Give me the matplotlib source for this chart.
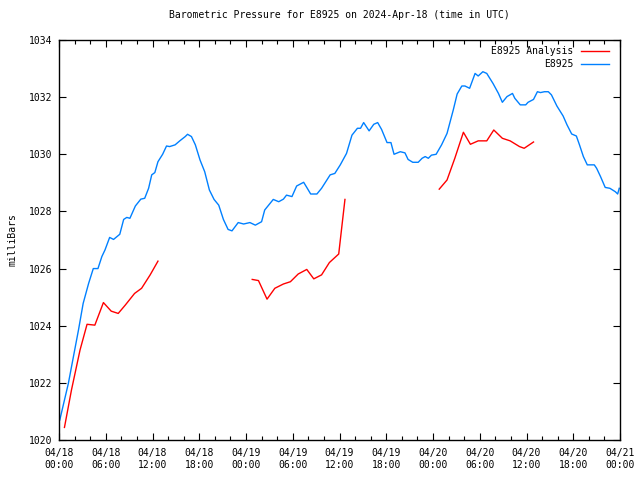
import numpy as np
import matplotlib
matplotlib.use('Agg')
import matplotlib.pyplot as plt

plt.rcParams.update({
    'font.family': 'DejaVu Sans Mono',
    'font.size': 7.0,
})

# hours since 2024-04-18 00:00 UTC
obs_hours = [0.1, 1.2, 2.5, 3.1, 3.8, 4.4, 5.0, 5.5, 5.9, 6.5, 7.0, 7.8, 8.3, 8.7, 9.1,
             9.8, 10.5, 11.0, 11.5, 11.9, 12.3, 12.7, 13.3, 13.8, 14.2, 14.9, 15.5, 16.2,
             16.5, 17.0, 17.5, 18.1, 18.7, 19.3, 19.9, 20.5, 21.1, 21.7, 22.2, 23.0, 23.7,
             24.5, 25.2, 26.0, 26.4, 27.5, 28.2, 28.8, 29.2, 29.9, 30.5, 31.4, 31.8, 32.3,
             33.1, 33.7, 34.8, 35.4, 36.1, 36.9, 37.6, 38.3, 38.7, 39.1, 39.8, 40.4, 40.9,
             41.4, 42.1, 42.6, 43.0, 43.8, 44.4, 44.8, 45.4, 46.1, 46.6, 47.0, 47.4, 47.8,
             48.4, 49.1, 49.8, 50.6, 51.1, 51.7, 52.1, 52.7, 53.4, 53.8, 54.4, 54.9, 55.7,
             56.4, 56.9, 57.5, 58.2, 58.5, 59.2, 59.9, 60.2, 60.9, 61.4, 61.8, 62.3, 62.8,
             63.2, 63.9, 64.7, 65.2, 65.8, 66.4, 66.8, 67.3, 67.8, 68.7, 69.0, 69.5, 70.1,
             70.7, 71.4, 71.7, 71.9]
obs_mb = [1020.70, 1021.98, 1023.85, 1024.78, 1025.48, 1026.00, 1026.00, 1026.42, 1026.65,
          1027.09, 1027.02, 1027.20, 1027.72, 1027.79, 1027.76, 1028.19, 1028.43, 1028.46,
          1028.81, 1029.28, 1029.36, 1029.74, 1030.00, 1030.29, 1030.27, 1030.33, 1030.47,
          1030.62, 1030.70, 1030.62, 1030.33, 1029.80, 1029.39, 1028.75, 1028.42, 1028.22,
          1027.72, 1027.37, 1027.32, 1027.61, 1027.56, 1027.61, 1027.52, 1027.64, 1028.05,
          1028.42, 1028.34, 1028.43, 1028.57, 1028.52, 1028.89, 1029.02, 1028.84, 1028.61,
          1028.61, 1028.81, 1029.28, 1029.33, 1029.63, 1030.03, 1030.67, 1030.91, 1030.91,
          1031.11, 1030.82, 1031.05, 1031.11, 1030.87, 1030.41, 1030.41, 1030.00, 1030.09,
          1030.05, 1029.82, 1029.72, 1029.72, 1029.86, 1029.92, 1029.86, 1029.97, 1030.00,
          1030.33, 1030.73, 1031.55, 1032.11, 1032.39, 1032.39, 1032.31, 1032.83, 1032.74,
          1032.89, 1032.83, 1032.48, 1032.13, 1031.82, 1032.02, 1032.13, 1031.96, 1031.73,
          1031.73, 1031.82, 1031.92, 1032.19, 1032.16, 1032.19, 1032.19, 1032.08, 1031.69,
          1031.34, 1031.03, 1030.71, 1030.64, 1030.33, 1029.92, 1029.63, 1029.63, 1029.51,
          1029.22, 1028.84, 1028.81, 1028.69, 1028.61, 1028.81]

# analysis, three separate runs
ana1_hours = [0.7, 1.6, 2.7, 3.6, 4.6, 5.7, 6.7, 7.6, 8.5, 9.7, 10.6, 11.7, 12.7]
ana1_mb = [1020.44, 1021.75, 1023.15, 1024.05, 1024.02, 1024.81, 1024.51, 1024.43,
           1024.72, 1025.13, 1025.31, 1025.78, 1026.26]
ana2_hours = [24.8, 25.6, 26.7, 27.7, 28.8, 29.7, 30.7, 31.8, 32.7, 33.7, 34.7, 35.9, 36.2, 36.7]
ana2_mb = [1025.62, 1025.58, 1024.93, 1025.31, 1025.46, 1025.54, 1025.81, 1025.97,
           1025.64, 1025.78, 1026.21, 1026.51, 1027.23, 1028.42]
ana3_hours = [48.8, 49.8, 50.8, 51.9, 52.8, 53.8, 54.9, 55.8, 56.9, 57.9, 59.1, 59.7, 60.9]
ana3_mb = [1028.78, 1029.10, 1029.86, 1030.77, 1030.35, 1030.47, 1030.47, 1030.85,
           1030.56, 1030.47, 1030.27, 1030.21, 1030.43]

tick_hours = list(range(0, 73, 6))
tick_labels = ['04/18\n00:00', '04/18\n06:00', '04/18\n12:00', '04/18\n18:00',
               '04/19\n00:00', '04/19\n06:00', '04/19\n12:00', '04/19\n18:00',
               '04/20\n00:00', '04/20\n06:00', '04/20\n12:00', '04/20\n18:00',
               '04/21\n00:00']

fig = plt.figure(figsize=(6.4, 4.8), dpi=100)
ax = fig.add_axes([59/640, 40/480, 561/640, 400/480])

ax.plot(ana1_hours, ana1_mb, color='#ff0000', lw=1.0, label='E8925 Analysis')
ax.plot(ana2_hours, ana2_mb, color='#ff0000', lw=1.0)
ax.plot(ana3_hours, ana3_mb, color='#ff0000', lw=1.0)
ax.plot(obs_hours, obs_mb, color='#0080ff', lw=1.0, label='E8925')

ax.set_xlim(0, 72)
ax.set_ylim(1020, 1034)
ax.set_xticks(tick_hours)
ax.set_xticklabels(tick_labels)
ax.set_xticks(range(0, 73, 2), minor=True)
ax.set_yticks(range(1020, 1035, 2))
ax.tick_params(which='both', direction='in', top=True, right=True, width=0.8)
ax.tick_params(which='major', length=5, pad=6)
ax.tick_params(which='minor', length=3)
ax.tick_params(axis='y', pad=5)
for s in ax.spines.values():
    s.set_linewidth(1.0)

ax.set_ylabel('milliBars', labelpad=8)
ax.set_title('Barometric Pressure for E8925 on 2024-Apr-18 (time in UTC)',
             fontsize=7.0, pad=16)
ax.legend(loc='upper right', bbox_to_anchor=(1 - 7/561, 1 - 2/400), frameon=False,
          markerfirst=False, handlelength=2.8, borderaxespad=0.15, borderpad=0.3,
          labelspacing=0.3, handletextpad=0.8)

fig.savefig('out.png', dpi=100)
